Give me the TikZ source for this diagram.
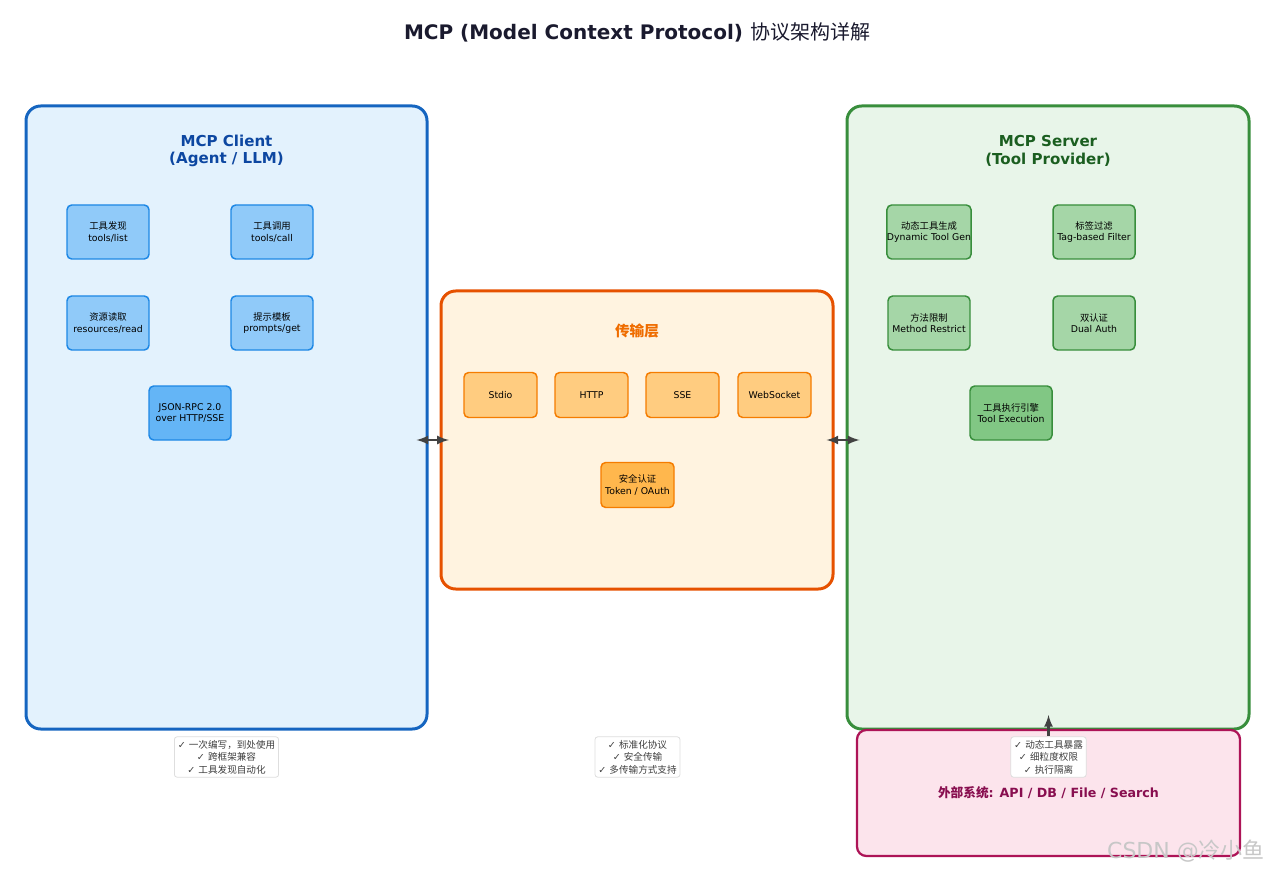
\documentclass[tikz,border=0pt]{standalone}
\usepackage{fontspec}
\setmainfont{DejaVu Sans}
\newfontfamily\cjk{Noto Sans CJK SC}
\usepackage{xcolor}
\definecolor{TitleText}{HTML}{1A1A2E}
\definecolor{ClientFill}{HTML}{E3F2FD}
\definecolor{ClientLine}{HTML}{1565C0}
\definecolor{ClientText}{HTML}{0D47A1}
\definecolor{ClientBox}{HTML}{90CAF9}
\definecolor{ClientBoxDark}{HTML}{64B5F6}
\definecolor{ClientBoxLine}{HTML}{1E88E5}
\definecolor{TransFill}{HTML}{FFF3E0}
\definecolor{TransLine}{HTML}{E65100}
\definecolor{TransText}{HTML}{EF6C00}
\definecolor{TransBox}{HTML}{FFCC80}
\definecolor{TransBoxDark}{HTML}{FFB74D}
\definecolor{TransBoxLine}{HTML}{F57C00}
\definecolor{ServerFill}{HTML}{E8F5E9}
\definecolor{ServerLine}{HTML}{388E3C}
\definecolor{ServerText}{HTML}{1B5E20}
\definecolor{ServerBox}{HTML}{A5D6A7}
\definecolor{ServerBoxDark}{HTML}{81C784}
\definecolor{ExtFill}{HTML}{FCE4EC}
\definecolor{ExtLine}{HTML}{AD1457}
\definecolor{ExtText}{HTML}{880E4F}
\definecolor{ArrowGray}{HTML}{424242}
\usetikzlibrary{positioning}

\begin{document}
\begin{tikzpicture}[
    x = 0.75pt, y = -0.75pt
    , panel/.style = {
      , rectangle
      , rounded corners = 11pt
      , line width = 2.25pt
      , inner sep = 0pt
    }
    , paneltitle/.style = {
      , font = \fontsize{11.3}{13}\selectfont\bfseries
      , align = center
    }
    , item/.style = {
      , rectangle
      , rounded corners = 3.5pt
      , line width = 1.1pt
      , inner sep = 0pt
      , align = center
      , font = \fontsize{7}{8.5}\selectfont
      , minimum width = 61.5pt
      , minimum height = 40.5pt
    }
    , citem/.style = {item, draw=ClientBoxLine, fill=ClientBox}
    , sitem/.style = {item, draw=ServerLine, fill=ServerBox}
    , titem/.style = {
      item, draw=TransBoxLine, fill=TransBox,
      minimum width = 54.75pt, minimum height = 33.75pt
    }
    , note/.style = {
      , rectangle
      , rounded corners = 2pt
      , draw = black!13
      , fill = white
      , line width = 0.6pt
      , align = center
      , inner sep = 2.5pt
      , font = \fontsize{7.2}{9.3}\selectfont\color{black!75}
    }
    , biarrow/.style = {
      , <->
      , >=latex
      , draw = ArrowGray
      , line width = 2pt
    }
    , uparrow/.style = {
      biarrow, <-
    }
    ]
    \useasboundingbox (0,0) rectangle (1273,873);

    \node[font=\fontsize{15}{18}\selectfont\bfseries, text=TitleText] (title) at (637,32)
      {MCP (Model Context Protocol) {\cjk\mdseries 协议架构详解}};

    % client side
    \node[panel, draw=ClientLine, fill=ClientFill,
      minimum width=300.75pt, minimum height=467.25pt] (client) at (226.5,417.5) {};
    \node[paneltitle, text=ClientText] (clienttitle) at (226.5,151) {MCP Client\\(Agent / LLM)};
    \node[citem] (tlist) at (108,232) {{\cjk 工具发现}\\tools/list};
    \node[citem] (tcall) at (272,232) {{\cjk 工具调用}\\tools/call};
    \node[citem] (rread) at (108,323) {{\cjk 资源读取}\\resources/read};
    \node[citem] (pget) at (272,323) {{\cjk 提示模板}\\prompts/get};
    \node[citem, fill=ClientBoxDark] (jsonrpc) at (190,413) {JSON-RPC 2.0\\over HTTP/SSE};

    % transport layer
    \node[panel, draw=TransLine, fill=TransFill,
      minimum width=294pt, minimum height=223.5pt] (transport) at (637,440) {};
    \node[font=\fontsize{11}{13}\selectfont\cjk\bfseries, text=TransText] (transtitle) at (637,331) {传输层};
    \node[titem] (stdio) at (500.5,395) {Stdio};
    \node[titem] (http) at (591.5,395) {HTTP};
    \node[titem] (sse) at (682.5,395) {SSE};
    \node[titem] (websocket) at (774.5,395) {WebSocket};
    \node[titem, fill=TransBoxDark] (auth) at (637.5,485) {{\cjk 安全认证}\\Token / OAuth};

    % server side
    \node[panel, draw=ServerLine, fill=ServerFill,
      minimum width=301.5pt, minimum height=467.25pt] (server) at (1048,417.5) {};
    \node[paneltitle, text=ServerText] (servertitle) at (1048,151) {MCP Server\\(Tool Provider)};
    \node[sitem] (dyngen) at (929,232) {{\cjk 动态工具生成}\\Dynamic Tool Gen};
    \node[sitem] (tagfilter) at (1094,232) {{\cjk 标签过滤}\\Tag-based Filter};
    \node[sitem] (method) at (929,323) {{\cjk 方法限制}\\Method Restrict};
    \node[sitem] (dualauth) at (1094,323) {{\cjk 双认证}\\Dual Auth};
    \node[sitem, fill=ServerBoxDark] (toolexec) at (1011,413) {{\cjk 工具执行引擎}\\Tool Execution};

    % external systems
    \node[panel, draw=ExtLine, fill=ExtFill, line width=1.7pt, rounded corners=7pt,
      minimum width=287.25pt, minimum height=94.5pt] (external) at (1048.5,793) {};
    \node[font=\fontsize{9.5}{11}\selectfont\bfseries, text=ExtText] (externaltitle) at (1048.5,793)
      {{\cjk 外部系统}: API / DB / File / Search};

    % notes
    \node[note] (clientnote) at (226.5,757)
      {✓ {\cjk 一次编写，到处使用}\\✓ {\cjk 跨框架兼容}\\✓ {\cjk 工具发现自动化}};
    \node[note] (transnote) at (637.5,757)
      {✓ {\cjk 标准化协议}\\✓ {\cjk 安全传输}\\✓ {\cjk 多传输方式支持}};
    \node[note] (servernote) at (1048.5,757)
      {✓ {\cjk 动态工具暴露}\\✓ {\cjk 细粒度权限}\\✓ {\cjk 执行隔离}};

    \coordinate (exttop) at (1048.5,715);

    \draw[biarrow] ([xshift=-9pt]client.east |- transport.west) -- ([xshift=7pt]transport.west);
    \draw[biarrow] ([xshift=-6pt]transport.east) -- ([xshift=10.5pt]server.west |- transport.east);
    \draw[uparrow] (exttop) -- (servernote.north);

    \node[font=\fontsize{16.5}{18}\selectfont, text=black!22] (watermark) at (1186,851)
      {CSDN @{\cjk 冷小鱼}};
  \end{tikzpicture}
\end{document}
